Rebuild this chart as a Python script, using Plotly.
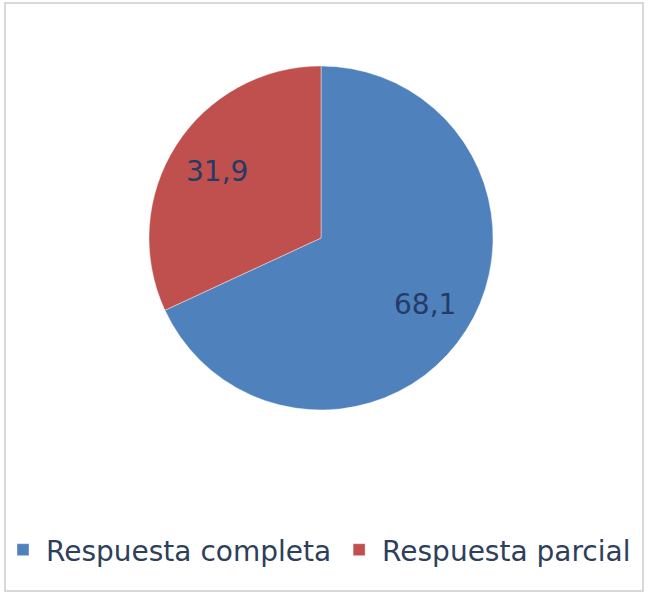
import math
import plotly.graph_objects as go

# data
labels = ["Respuesta completa", "Respuesta parcial"]
values = [68.1, 31.9]
colors = ["#4F81BD", "#C0504D"]

W, H = 650, 597

# pie placement (paper fractions)
dom_x = [149 / W, 493 / W]
dom_y = [(H - 410) / H, (H - 66) / H]
cx, cy = sum(dom_x) / 2, sum(dom_y) / 2
R = 172
label_r = 0.72 * R

fig = go.Figure()

fig.add_trace(go.Pie(
    labels=labels,
    values=values,
    sort=False,
    direction="clockwise",
    rotation=0,
    marker=dict(colors=colors, line=dict(color="rgba(255,255,255,0.4)", width=1)),
    textinfo="none",
    hoverinfo="label+value",
    domain=dict(x=dom_x, y=dom_y),
))

# data labels at slice mid-angles (Excel-style placement)
total = sum(values)
start = 0.0
for v in values:
    mid = (start + v / 2) / total * 2 * math.pi
    start += v
    fig.add_annotation(
        x=cx + label_r * math.sin(mid) / W,
        y=cy + label_r * math.cos(mid) / H,
        xref="paper", yref="paper",
        xanchor="center", yanchor="middle",
        text=f"{v:.1f}".replace(".", ","),
        showarrow=False,
        font=dict(family="DejaVu Sans", size=28, color="#243B66"),
    )

# chart frame
fig.add_shape(type="rect", xref="paper", yref="paper",
              x0=5 / W, x1=643 / W, y0=(H - 591) / H, y1=(H - 3) / H,
              line=dict(color="#D9D9D9", width=2), fillcolor="rgba(0,0,0,0)")

fig.update_layout(
    width=W, height=H,
    margin=dict(l=0, r=0, t=0, b=0),
    paper_bgcolor="white",
    showlegend=True,
    legend=dict(
        orientation="h",
        x=0.0, xanchor="left",
        y=(H - 550) / H, yanchor="middle",
        bgcolor="rgba(0,0,0,0)",
        font=dict(family="DejaVu Sans", size=28, color="#2E3F5C"),
        itemwidth=36,
    ),
)

fig.write_html("out.html", config={"displayModeBar": False},
               post_script="document.body.style.margin='0';")
